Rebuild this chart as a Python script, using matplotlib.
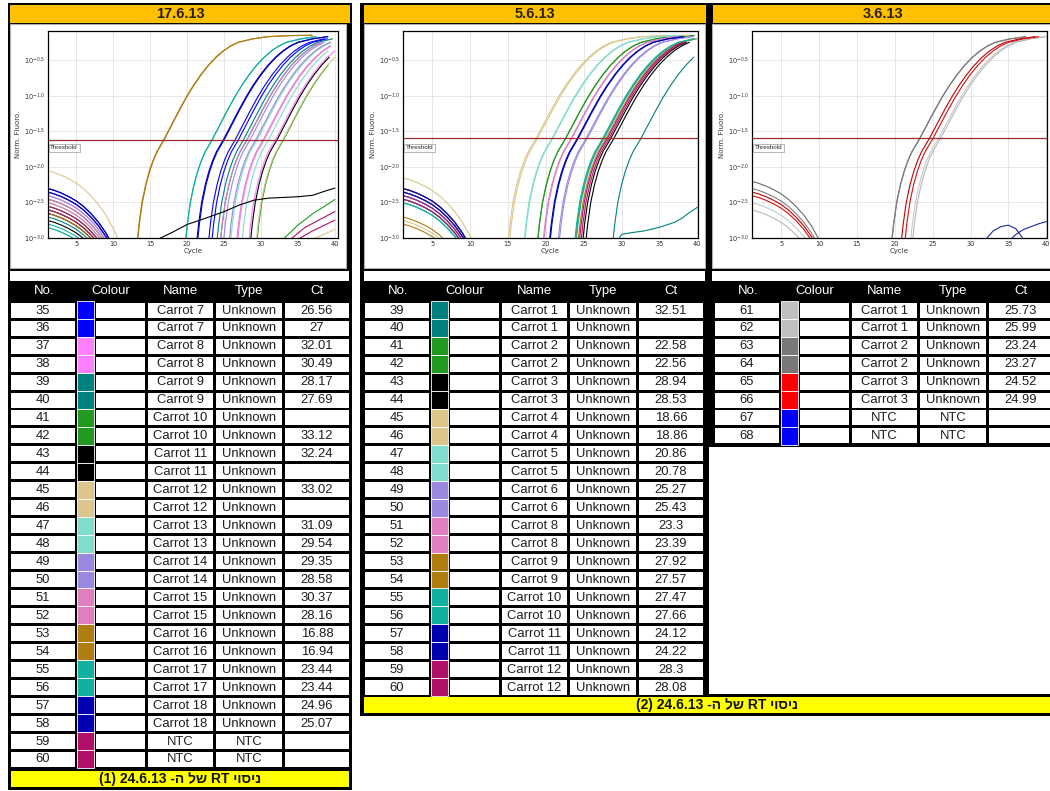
import numpy as np
import matplotlib
matplotlib.use('Agg')
import matplotlib.pyplot as plt
from matplotlib.patches import Rectangle

W, H = 1050, 791
FONT = ['Liberation Sans', 'DejaVu Sans']

# shape of one amplification curve:
# cycles relative to Ct and log10(Norm. Fluoro.)
rise_dx = [-3.7, -3.4, -3.0, -2.5, -2.0, -1.5, -1.0, -0.5, 0.0, 1.0, 2.0, 3.0, 4.0,
           5.0, 6.0, 7.0, 8.0, 9.0, 10.0, 12.0, 14.0, 17.0, 20.0, 26.0]
rise_log = [-3.1, -2.8, -2.5, -2.25, -2.06, -1.91, -1.79, -1.70, -1.61, -1.41, -1.21, -1.02, -0.85,
            -0.70, -0.57, -0.46, -0.37, -0.30, -0.25, -0.20, -0.17, -0.155, -0.15, -0.145]
# early baseline drift: cycles after cycle 1 and drop in log10
base_dx = [0, 1, 2, 3, 4, 5, 6, 7, 8, 9, 10, 11]
base_drop = [0, -0.03, -0.07, -0.12, -0.18, -0.26, -0.36, -0.48, -0.63, -0.82, -1.05, -1.3]

# ---- 17.6.13 ----
t1_no = list(range(35, 61))
t1_name = ['Carrot 7', 'Carrot 7', 'Carrot 8', 'Carrot 8', 'Carrot 9', 'Carrot 9',
           'Carrot 10', 'Carrot 10', 'Carrot 11', 'Carrot 11', 'Carrot 12', 'Carrot 12',
           'Carrot 13', 'Carrot 13', 'Carrot 14', 'Carrot 14', 'Carrot 15', 'Carrot 15',
           'Carrot 16', 'Carrot 16', 'Carrot 17', 'Carrot 17', 'Carrot 18', 'Carrot 18',
           'NTC', 'NTC']
t1_type = ['Unknown'] * 24 + ['NTC', 'NTC']
t1_ct = ['26.56', '27', '32.01', '30.49', '28.17', '27.69', '', '33.12', '32.24', '',
         '33.02', '', '31.09', '29.54', '29.35', '28.58', '30.37', '28.16', '16.88', '16.94',
         '23.44', '23.44', '24.96', '25.07', '', '']
t1_colour = ['#0000ff', '#0000ff', '#ff80ff', '#ff80ff', '#008080', '#008080',
             '#229a22', '#229a22', '#000000', '#000000', '#dcc68c', '#dcc68c',
             '#80dccc', '#80dccc', '#9b88e0', '#9b88e0', '#e07fc0', '#e07fc0',
             '#b07d10', '#b07d10', '#12b0a0', '#12b0a0', '#0000b0', '#0000b0',
             '#b0106a', '#b0106a']
t1_start = [-2.3, -2.35, -2.4, -2.45, -2.6, -2.7, -2.45, -2.55, -2.65, -2.75, -2.05, -2.5,
            -2.5, -2.85, -2.35, -2.4, -2.45, -2.5, -2.6, -2.65, -2.8, -2.85, -2.3, -2.35,
            -2.55, -2.6]
p1_late = [(44, [16, 18, 20, 22, 25, 27, 29, 31, 33, 35, 37, 39, 40],
            [-3.02, -2.92, -2.81, -2.74, -2.63, -2.54, -2.47, -2.44, -2.43, -2.42, -2.4, -2.33, -2.3]),
           (41, [33, 35, 37, 39, 40], [-3.02, -2.82, -2.66, -2.53, -2.46]),
           (59, [34, 36, 38, 40], [-3.02, -2.85, -2.74, -2.63]),
           (60, [35, 37, 39, 40], [-3.02, -2.9, -2.8, -2.75]),
           (46, [37, 38.5, 40], [-3.02, -2.95, -2.88])]

# ---- 5.6.13 ----
t2_no = list(range(39, 61))
t2_name = ['Carrot 1', 'Carrot 1', 'Carrot 2', 'Carrot 2', 'Carrot 3', 'Carrot 3',
           'Carrot 4', 'Carrot 4', 'Carrot 5', 'Carrot 5', 'Carrot 6', 'Carrot 6',
           'Carrot 8', 'Carrot 8', 'Carrot 9', 'Carrot 9', 'Carrot 10', 'Carrot 10',
           'Carrot 11', 'Carrot 11', 'Carrot 12', 'Carrot 12']
t2_type = ['Unknown'] * 22
t2_ct = ['32.51', '', '22.58', '22.56', '28.94', '28.53', '18.66', '18.86', '20.86', '20.78',
         '25.27', '25.43', '23.3', '23.39', '27.92', '27.57', '27.47', '27.66', '24.12', '24.22',
         '28.3', '28.08']
t2_colour = ['#008080', '#008080', '#229a22', '#229a22', '#000000', '#000000',
             '#dcc68c', '#dcc68c', '#80dccc', '#80dccc', '#9b88e0', '#9b88e0',
             '#e07fc0', '#e07fc0', '#b07d10', '#b07d10', '#12b0a0', '#12b0a0',
             '#0000b0', '#0000b0', '#b0106a', '#b0106a']
t2_start = [-2.45, -2.5, -2.3, -2.4, -2.3, -2.35, -2.15, -2.75, -2.4, -2.5, -2.35, -2.4,
            -2.3, -2.45, -2.7, -2.8, -2.45, -2.5, -2.3, -2.35, -2.4, -2.45]
p2_late = [(40, [29.4, 30, 31, 33, 35, 37, 38, 39, 40],
            [-3.05, -2.95, -2.93, -2.9, -2.85, -2.78, -2.72, -2.64, -2.57])]

# ---- 3.6.13 ----
t3_no = list(range(61, 69))
t3_name = ['Carrot 1', 'Carrot 1', 'Carrot 2', 'Carrot 2', 'Carrot 3', 'Carrot 3', 'NTC', 'NTC']
t3_type = ['Unknown'] * 6 + ['NTC', 'NTC']
t3_ct = ['25.73', '25.99', '23.24', '23.27', '24.52', '24.99', '', '']
t3_colour = ['#c0c0c0', '#c0c0c0', '#787878', '#787878', '#ff0000', '#ff0000',
             '#0000ff', '#0000ff']
t3_line = ['#c8c8c8', '#b8b8b8', '#6a6a6a', '#808080', '#c00000', '#d01010', '#1c2a9a', '#1c2a9a']
t3_start = [-2.5, -2.6, -2.2, -2.3, -2.35, -2.4, -3.2, -3.2]
p3_late = [(67, [32, 33, 34, 35, 36, 37], [-3.02, -2.9, -2.84, -2.82, -2.87, -3.02]),
           (68, [35, 36, 37, 38, 39, 40], [-3.05, -2.95, -2.88, -2.84, -2.8, -2.77])]

thresholds = [-1.62, -1.59, -1.59]
titles = ['17.6.13', '5.6.13', '3.6.13']
ytick_logs = [-3.0, -2.5, -2.0, -1.5, -1.0, -0.5]
xticks = [5, 10, 15, 20, 25, 30, 35, 40]

fig = plt.figure(figsize=(W / 100, H / 100), dpi=100)
ax0 = fig.add_axes([0, 0, 1, 1])
ax0.set_xlim(0, W)
ax0.set_ylim(H, 0)
ax0.axis('off')


def rect(x0, y0, x1, y1, fc, ec='none', lw=0):
    ax0.add_patch(Rectangle((x0, y0), x1 - x0, y1 - y0, facecolor=fc, edgecolor=ec, linewidth=lw))


# frames of the three blocks
rect(8, 3, 352, 790, 'black')
rect(10, 24, 346, 268, 'white', '#b0b0b0', 0.8)
rect(10, 271, 349, 281, 'white')
rect(360, 3, 709, 716, 'black')
rect(364, 24, 705, 268, 'white', '#b0b0b0', 0.8)
rect(364, 271, 705, 281, 'white')
rect(706, 3, 1052, 447, 'black')
rect(712, 24, 1052, 268, 'white', '#b0b0b0', 0.8)
rect(712, 271, 1052, 281, 'white')
rect(362, 694, 1052, 716, 'black')

for (x0, x1), t in zip([(10, 350), (364, 706), (713, 1052)], titles):
    rect(x0, 5, x1, 23, '#ffc000')
for cx, t in zip([180, 535, 883], titles):
    ax0.text(cx, 14.5, t, ha='center', va='center', fontsize=10.5, fontweight='bold',
             color='#2a2000', family=FONT)

# footers (Hebrew written in visual order)
rect(11, 771, 349, 787, '#ffff00')
ax0.text(180, 779.5, '(1) 24.6.13 -ה לש RT יוסינ', ha='center', va='center', fontsize=10,
         fontweight='bold', color='#111111', family=FONT)
rect(364, 697, 1052, 713, '#ffff00')
ax0.text(717, 705.5, '(2) 24.6.13 -ה לש RT יוסינ', ha='center', va='center', fontsize=10,
         fontweight='bold', color='#111111', family=FONT)

COLS = [(11, 75), (96, 145), (148, 213), (216, 282), (285, 349)]
HEAD = ['No.', 'Colour', 'Name', 'Type', 'Ct']
HEAD_X = [44, 111, 180, 249, 317]


def draw_table(dx, nos, names, types, cts, colours):
    for label, cx in zip(HEAD, HEAD_X):
        ax0.text(cx + dx, 291, label, ha='center', va='center', color='white',
                 fontsize=9.5, family=FONT)
    for i, (no, name, typ, ct, col) in enumerate(zip(nos, names, types, cts, colours)):
        top = 302.7 + 17.96 * i
        for (a, b), txt in zip(COLS, [str(no), '', name, typ, ct]):
            rect(a + dx, top, b + dx, top + 15, 'white')
            if txt:
                ax0.text((a + b) / 2 + dx, top + 7.8, txt, ha='center', va='center',
                         color='#1e1e1e', fontsize=9.4, family=FONT)
        rect(77 + dx, top - 1.6, 94 + dx, top + 16.4, col, 'white', 0.6)


draw_table(0, t1_no, t1_name, t1_type, t1_ct, t1_colour)
draw_table(354, t2_no, t2_name, t2_type, t2_ct, t2_colour)
draw_table(704, t3_no, t3_name, t3_type, t3_ct, t3_colour)


def draw_panel(box, xlim, nos, cts, colours, starts, late, thr):
    x0, y0, x1, y1 = box
    ax = fig.add_axes([x0 / W, 1 - y1 / H, (x1 - x0) / W, (y1 - y0) / H], zorder=2)
    ax.set_yscale('log')
    for ct, col, st in zip(cts, colours, starts):
        ax.plot(1 + np.array(base_dx), 10 ** (st + np.array(base_drop)), color=col, lw=0.8)
        if ct:
            cx = float(ct) + np.array(rise_dx)
            keep = cx <= 40.05
            ax.plot(cx[keep], 10 ** np.array(rise_log)[keep], color=col, lw=0.8)
    for no, cyc, lg in late:
        ax.plot(cyc, 10 ** np.array(lg), color=colours[nos.index(no)], lw=0.8)
    ax.axhline(10 ** thr, color='#9b2d2d', lw=0.9)
    ax.text(0.008, 0.435, 'Threshold', transform=ax.transAxes, fontsize=4.5, color='#222222',
            va='center', family=FONT,
            bbox=dict(boxstyle='square,pad=0.25', fc='white', ec='#999999', lw=0.5))
    ax.set_xlim(*xlim)
    ax.set_ylim(10 ** -3.0, 10 ** -0.09)
    ax.set_xticks(xticks)
    ax.set_xticklabels([str(t) for t in xticks])
    ax.set_yticks([10 ** v for v in ytick_logs])
    ax.set_yticklabels([r'$10^{%.1f}$' % v for v in ytick_logs])
    ax.minorticks_off()
    ax.tick_params(length=0, labelsize=4.8, labelcolor='#333333', pad=2)
    ax.grid(color='#e2e2e2', lw=0.6)
    ax.set_axisbelow(True)
    ax.set_xlabel('Cycle', fontsize=5, color='#333333', labelpad=1)
    ax.set_ylabel('Norm. Fluoro.', fontsize=5, color='#333333', labelpad=2)
    for s in ax.spines.values():
        s.set_linewidth(0.9)
    return ax


draw_panel((48, 31, 338, 238), (1.15, 40.45), t1_no, t1_ct, t1_colour, t1_start, p1_late, thresholds[0])
draw_panel((403, 31, 698, 238), (1.15, 40.1), t2_no, t2_ct, t2_colour, t2_start, p2_late, thresholds[1])
draw_panel((752, 31, 1047, 238), (1.15, 40.1), t3_no, t3_ct, t3_line, t3_start, p3_late, thresholds[2])

fig.savefig('out.png', dpi=100)
